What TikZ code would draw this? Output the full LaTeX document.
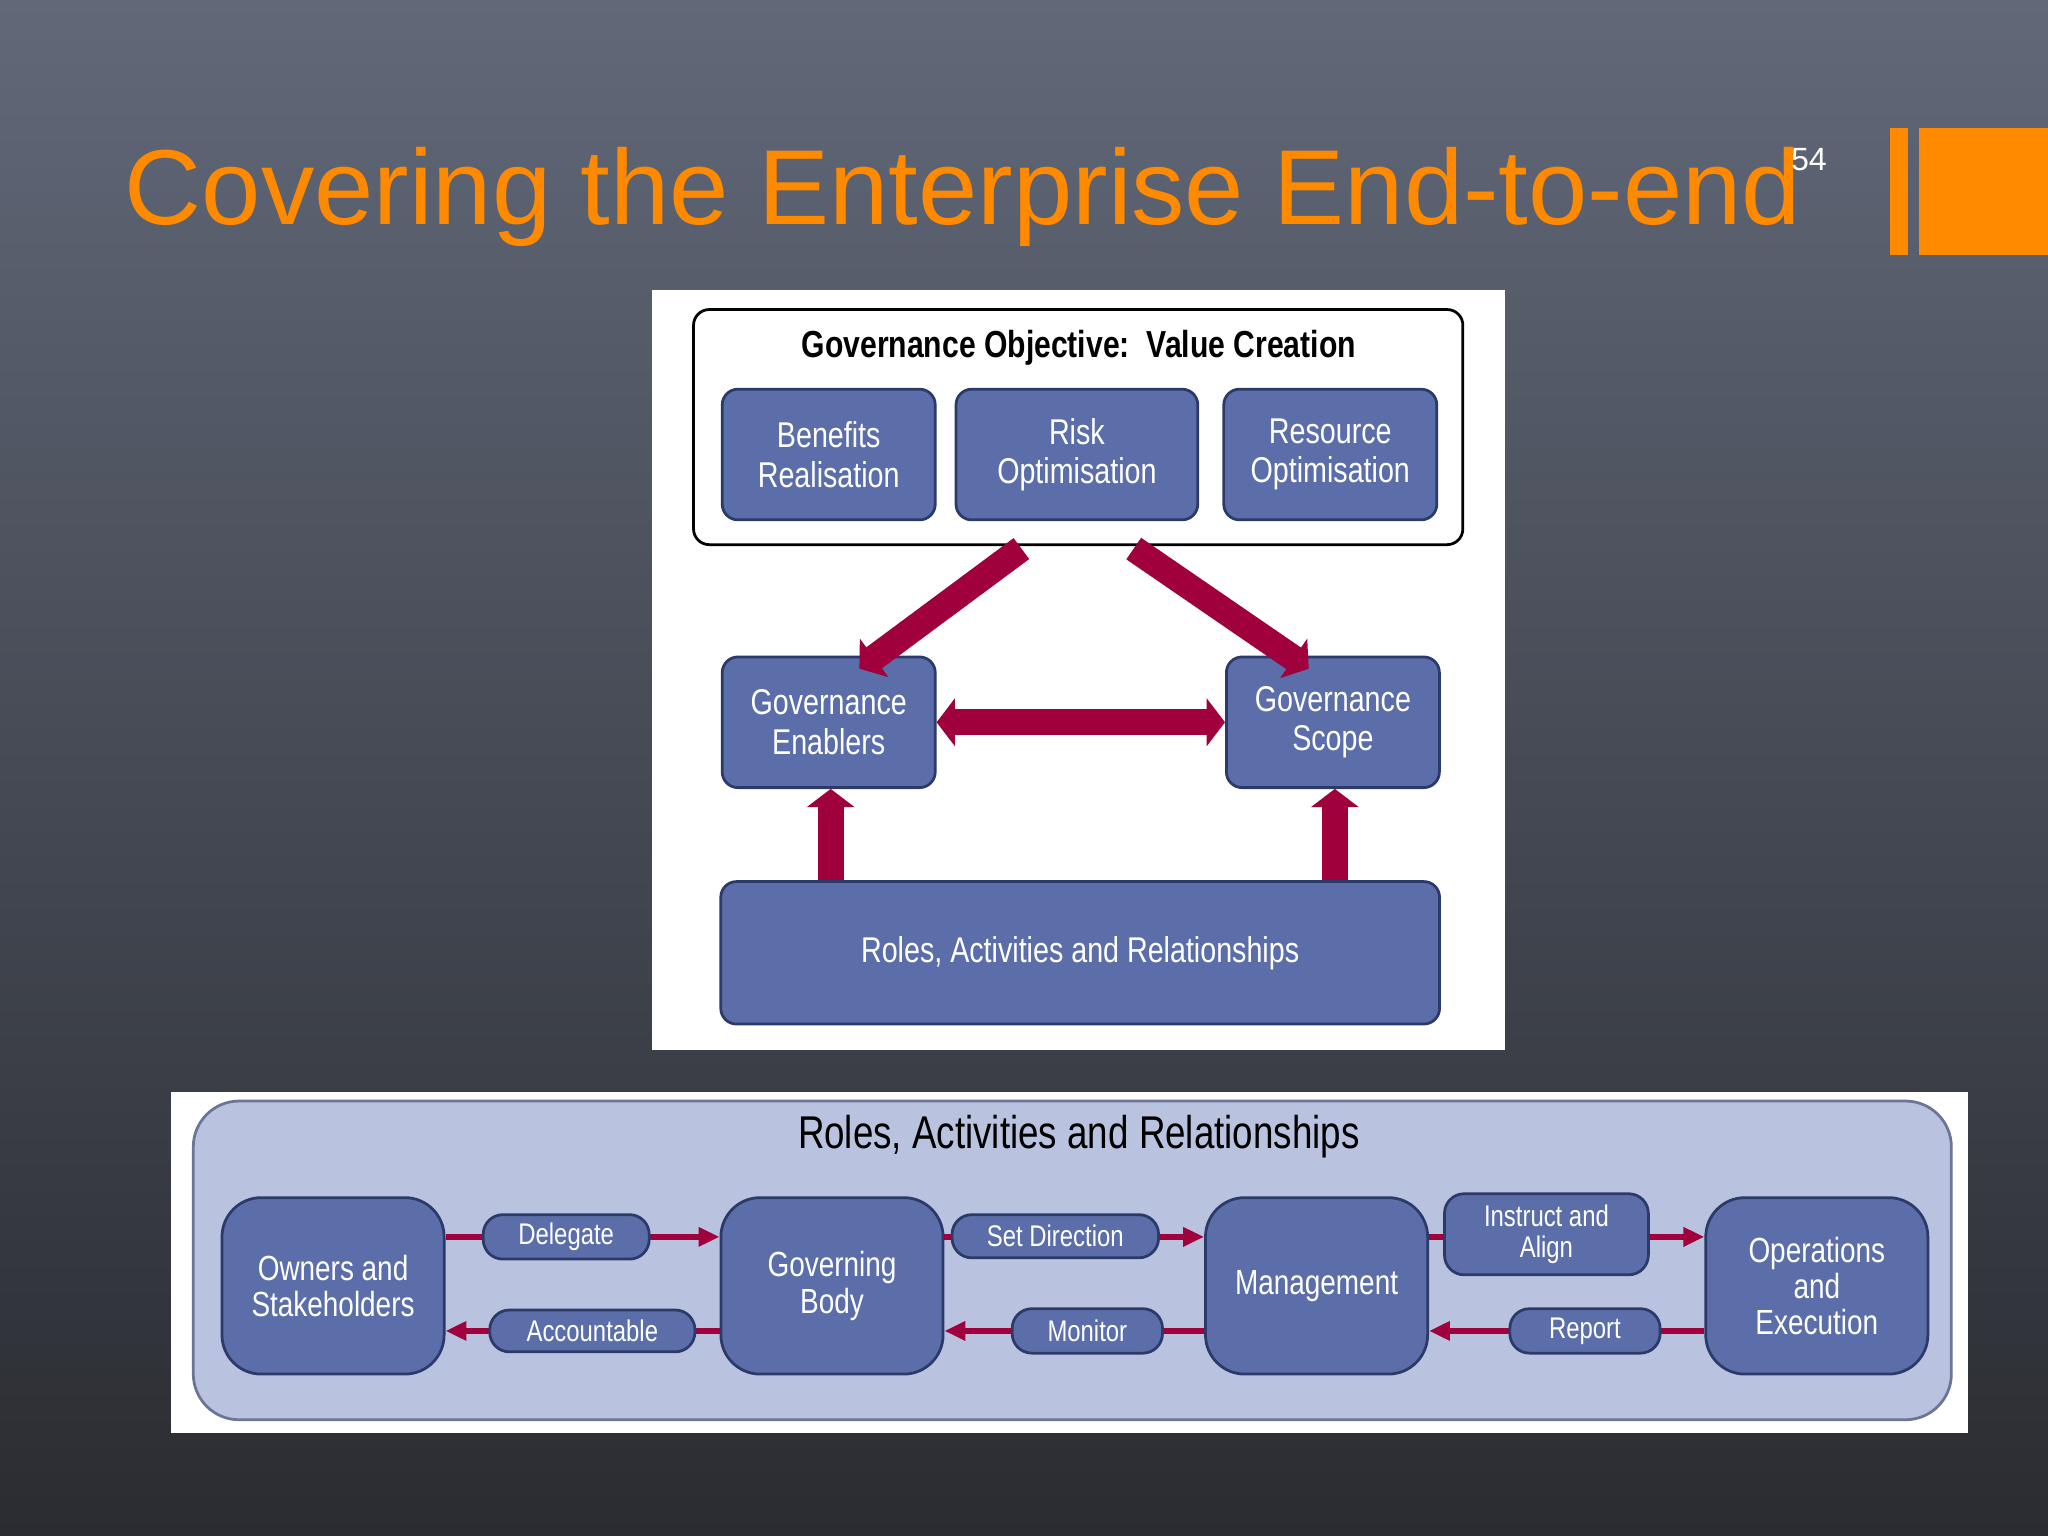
\documentclass[tikz,border=0pt]{standalone}
\usepackage{fontspec}
\setmainfont{Liberation Sans}
\newfontfamily\narrow{Liberation Sans}[FakeStretch=0.8]
\usetikzlibrary{arrows.meta}
\definecolor{bx}{HTML}{5B6EA9}
\definecolor{bxd}{HTML}{2C3A6A}
\definecolor{crim}{HTML}{A0003C}
\definecolor{org}{HTML}{FF8A00}
\definecolor{lav}{HTML}{B9C2DF}
\definecolor{bgt}{HTML}{616878}
\definecolor{bgb}{HTML}{2A2C31}
\tikzset{
 box/.style={draw=bxd,line width=0.6pt,fill=bx,rounded corners=0.12cm,text=white,align=center,font=\narrow\fontsize{7.8}{8.6}\selectfont,inner sep=0pt},
 big/.style={box,rounded corners=0.3cm,minimum width=1.7cm,minimum height=1.35cm,font=\narrow\fontsize{7.6}{7.9}\selectfont},
 lab/.style={box,rounded corners=0.15cm,font=\narrow\fontsize{6.5}{6.8}\selectfont},
 fat/.style={draw=crim,line width=0.2cm,-{Triangle[length=0.14cm,width=0.36cm]}},
 thin/.style={draw=crim,line width=1.2pt,-{Triangle[length=0.16cm,width=0.14cm]}},
}
\begin{document}
\begin{tikzpicture}[x=0.01cm,y=-0.01cm]
\shade[top color=bgt,bottom color=bgb] (0,0) rectangle (1568,1176);
\useasboundingbox (0,0) rectangle (1568,1176);
\node[anchor=base west,text=org,font=\fontsize{23.2}{26}\selectfont,inner sep=0] (title) at (95,172) {Covering the Enterprise End-to-end};
\node[text=white,font=\fontsize{7}{8}\selectfont] (num) at (1385,122) {54};
\fill[org] (1447,98) rectangle (1461,195);
\fill[org] (1469,98) rectangle (1568,195);
% top panel
\fill[white] (499,222) rectangle (1152,804);
\draw[black,line width=0.6pt,rounded corners=0.12cm] (531,237) rectangle (1120,417);
\node[font=\narrow\bfseries\fontsize{8.2}{9}\selectfont] (obj) at (826,266) {Governance Objective:\ \ Value Creation};
\node[box,minimum width=1.63cm,minimum height=1cm] (ben) at (634.5,348) {Benefits\\Realisation};
\node[box,minimum width=1.85cm,minimum height=1cm] (risk) at (824.5,348) {Risk\\Optimisation};
\node[box,minimum width=1.63cm,minimum height=1cm] (res) at (1018.5,348) {Resource\\Optimisation};
\node[box,minimum width=1.63cm,minimum height=1cm] (ena) at (634.5,553) {Governance\\Enablers};
\node[box,minimum width=1.63cm,minimum height=1cm] (sco) at (1020.5,553) {Governance\\Scope};
\node[box,minimum width=5.5cm,minimum height=1.09cm] (rar) at (827,729.5) {Roles, Activities and Relationships};
\coordinate (a1) at (782,420); \coordinate (a2) at (868,420);
\coordinate (e1) at (658,512); \coordinate (e2) at (1002,512);
\draw[fat] (a1) -- (e1);
\draw[fat] (a2) -- (e2);
\draw[fat,{Triangle[length=0.14cm,width=0.36cm]}-{Triangle[length=0.14cm,width=0.36cm]}] (ena.east) -- (sco.west);
\draw[fat] (rar.north -| 636,0) -- (636,604);
\draw[fat] (rar.north -| 1022,0) -- (1022,604);
% bottom panel
\fill[white] (131,836) rectangle (1507,1097);
\draw[bxd!70,fill=lav,line width=0.6pt,rounded corners=0.35cm] (148,843) rectangle (1494,1087);
\node[font=\narrow\fontsize{10}{11}\selectfont] (rt) at (826,870) {Roles, Activities and Relationships};
\node[big] (own) at (255,984.5) {Owners and\\Stakeholders};
\node[big] (gov) at (637,984.5) {Governing\\Body};
\node[big] (man) at (1008,984.5) {Management};
\node[big] (ops) at (1391,984.5) {Operations\\and\\Execution};
\draw[thin] (own.east |- 0,947) -- (gov.west |- 0,947);
\draw[thin] (gov.east |- 0,947) -- (man.west |- 0,947);
\draw[thin] (man.east |- 0,947) -- (ops.west |- 0,947);
\draw[thin] (gov.west |- 0,1019) -- (own.east |- 0,1019);
\draw[thin] (man.west |- 0,1019) -- (gov.east |- 0,1019);
\draw[thin] (ops.west |- 0,1019) -- (man.east |- 0,1019);
\node[lab,minimum width=1.27cm,minimum height=0.34cm] (del) at (433.5,947) {Delegate};
\node[lab,minimum width=1.57cm,minimum height=0.32cm] (acc) at (453.5,1019) {Accountable};
\node[lab,minimum width=1.58cm,minimum height=0.33cm] (sd) at (808,946.5) {Set Direction};
\node[lab,minimum width=1.15cm,minimum height=0.34cm] (mon) at (832.5,1019) {Monitor};
\node[lab,minimum width=1.56cm,minimum height=0.62cm] (ia) at (1184,945) {Instruct and\\Align};
\node[lab,minimum width=1.15cm,minimum height=0.34cm] (rep) at (1213.5,1019) {Report};
\end{tikzpicture}
\end{document}
